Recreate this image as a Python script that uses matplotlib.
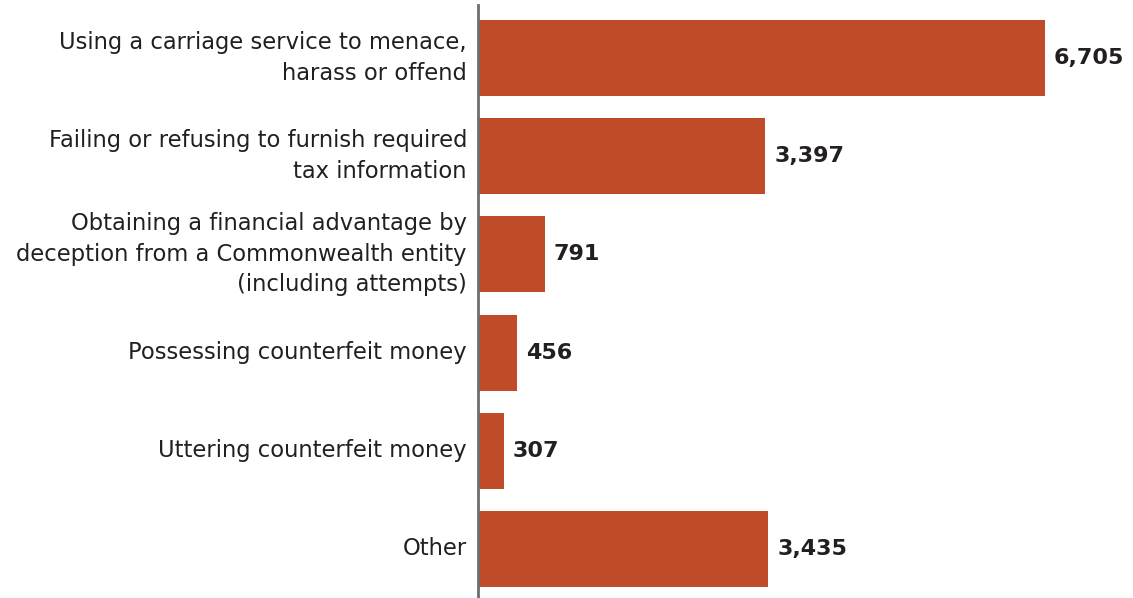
import matplotlib
matplotlib.use("Agg")
import matplotlib.pyplot as plt

categories = [
    "Using a carriage service to menace,\nharass or offend",
    "Failing or refusing to furnish required\ntax information",
    "Obtaining a financial advantage by\ndeception from a Commonwealth entity\n(including attempts)",
    "Possessing counterfeit money",
    "Uttering counterfeit money",
    "Other",
]
counts = [6705, 3397, 791, 456, 307, 3435]

BAR_COLOR = "#C04B28"
TEXT_COLOR = "#231F20"

plt.rcParams.update({
    "font.family": ["DejaVu Sans"],
    "font.size": 16,
})

fig = plt.figure(figsize=(11.33, 5.98), dpi=100)
ax = fig.add_axes([478 / 1133, 0, 1 - 478 / 1133, 593 / 598])

y = list(range(len(categories)))
ax.barh(y, counts, height=0.775, color=BAR_COLOR)

# value labels just past the end of each bar
for yi, val in zip(y, counts):
    ax.annotate(f"{val:,}", xy=(val, yi), xytext=(6.5, 0), textcoords="offset points",
                ha="left", va="center", fontsize=16, fontweight="bold", color=TEXT_COLOR)

ax.set_yticks(y)
ax.set_yticklabels(categories, fontsize=16.3, color=TEXT_COLOR, linespacing=1.42)
for lbl in ax.get_yticklabels():
    lbl.set_verticalalignment("center")
ax.tick_params(axis="y", length=0, pad=8)
ax.set_xticks([])
ax.set_xlim(0, 6705 * 655 / 567)
ax.set_ylim(5.5, -0.54)

for side in ("top", "right", "bottom"):
    ax.spines[side].set_visible(False)
ax.spines["left"].set_color("#6D6E71")
ax.spines["left"].set_linewidth(2)

fig.savefig("out.png", dpi=100)
